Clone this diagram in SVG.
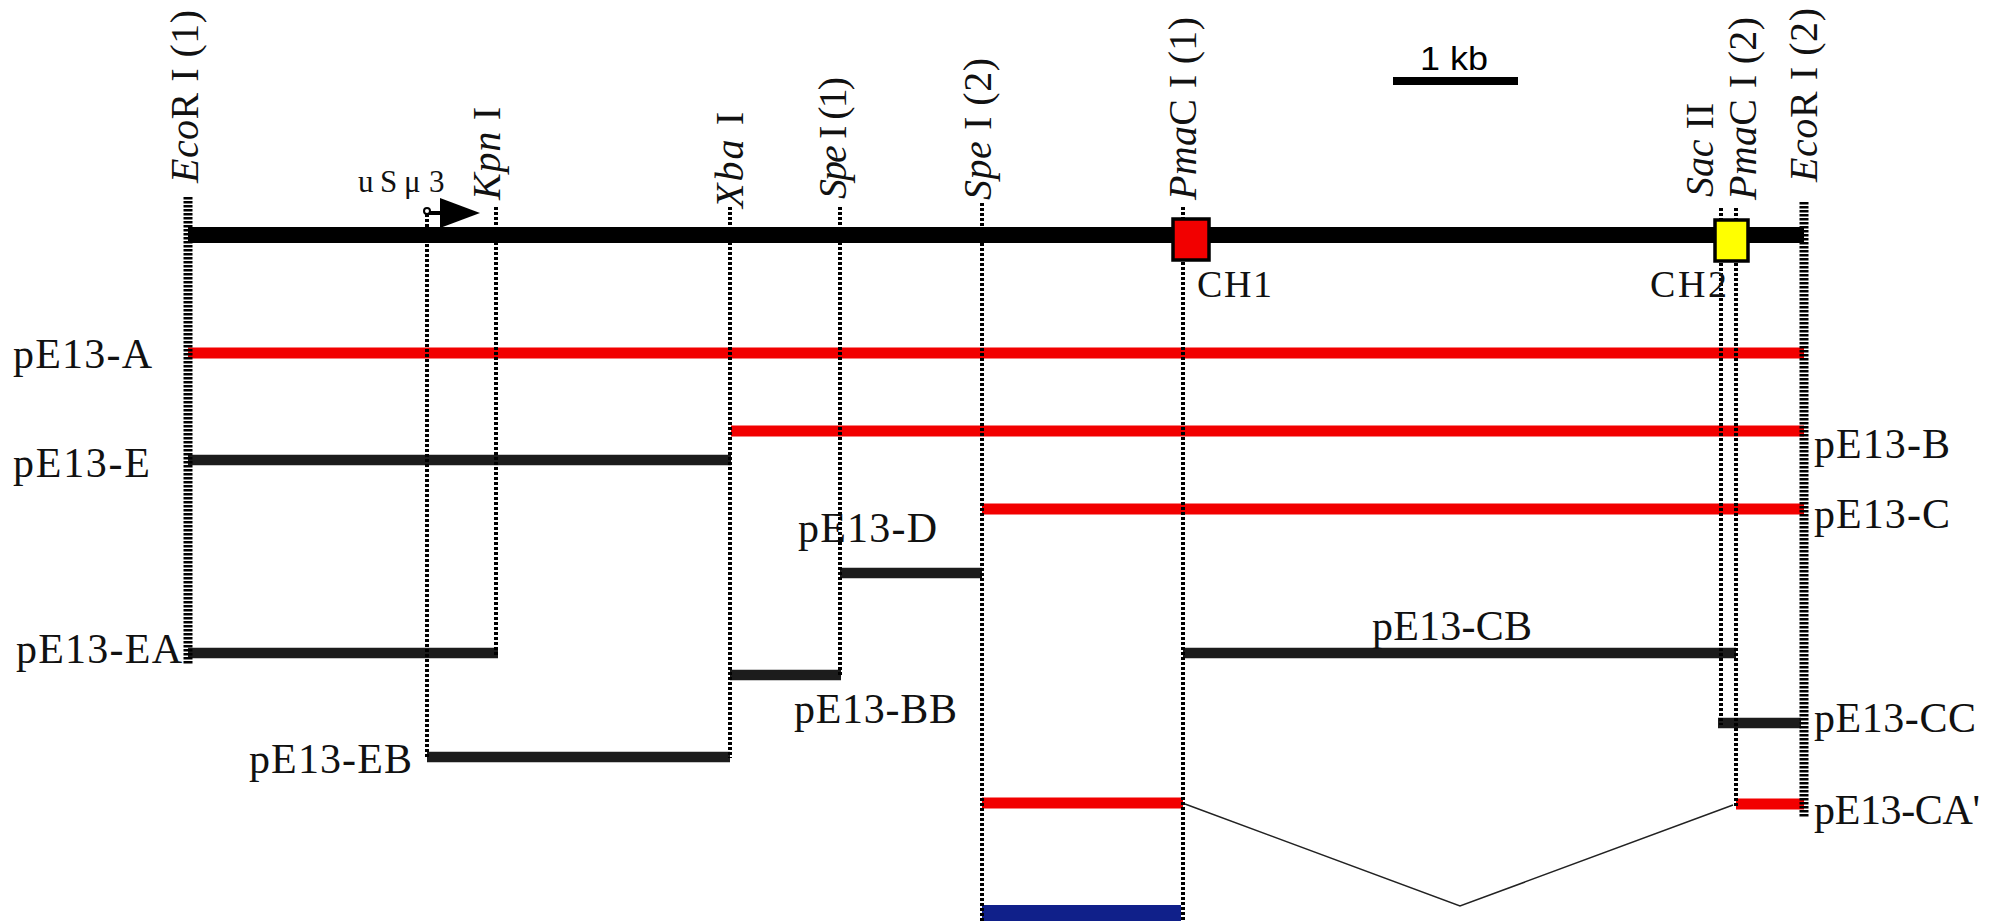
<svg xmlns="http://www.w3.org/2000/svg" width="2010" height="924" viewBox="0 0 2010 924">
<style>
.lbl{font-family:"Liberation Serif","Times New Roman",serif;font-size:42px;fill:#111;}
.vl{font-family:"Liberation Serif","Times New Roman",serif;font-size:40px;fill:#111;}
.it{font-style:italic;}
.site{stroke:#000;stroke-width:4;stroke-dasharray:3 2;fill:none;}
.eco{stroke:#000;stroke-width:9;stroke-dasharray:2.5 1.5;fill:none;}
.red{stroke:#f20000;stroke-width:11;}
.dark{stroke:#1c1c1c;stroke-width:10.5;}
.blue{stroke:#10208a;stroke-width:16;}
</style>
<rect width="2010" height="924" fill="#fff"/>

<!-- main genomic bar -->
<g id="main-bar">
  <line x1="188" y1="235" x2="1804" y2="235" stroke="#000" stroke-width="16"/>
</g>

<!-- fragments -->
<g id="pE13-A"><line class="red" x1="188" y1="353" x2="1804" y2="353"/><text class="lbl" x="13" y="368" textLength="139">pE13-A</text></g>
<g id="pE13-B"><line class="red" x1="731" y1="431" x2="1804" y2="431"/><text class="lbl" x="1814" y="458" textLength="136">pE13-B</text></g>
<g id="pE13-E"><line class="dark" x1="188" y1="460" x2="731" y2="460"/><text class="lbl" x="13" y="477" textLength="137">pE13-E</text></g>
<g id="pE13-C"><line class="red" x1="982" y1="509" x2="1804" y2="509"/><text class="lbl" x="1814" y="528" textLength="136">pE13-C</text></g>
<g id="pE13-D"><line class="dark" x1="840" y1="573" x2="982" y2="573"/><text class="lbl" x="798" y="542" textLength="139">pE13-D</text></g>
<g id="pE13-EA"><line class="dark" x1="188" y1="653" x2="498" y2="653"/><text class="lbl" x="16" y="663" textLength="166">pE13-EA</text></g>
<g id="pE13-CB"><line class="dark" x1="1183" y1="653" x2="1736" y2="653"/><text class="lbl" x="1372" y="640" textLength="160">pE13-CB</text></g>
<g id="pE13-BB"><line class="dark" x1="730" y1="675" x2="841" y2="675"/><text class="lbl" x="794" y="723" textLength="163">pE13-BB</text></g>
<g id="pE13-CC"><line class="dark" x1="1718" y1="723" x2="1801" y2="723"/><text class="lbl" x="1814" y="732" textLength="162">pE13-CC</text></g>
<g id="pE13-EB"><line class="dark" x1="427" y1="757" x2="730" y2="757"/><text class="lbl" x="249" y="773" textLength="163">pE13-EB</text></g>
<g id="pE13-CA"><line class="red" x1="982" y1="803" x2="1183" y2="803"/><line class="red" x1="1736" y1="804" x2="1804" y2="804"/><text class="lbl" x="1814" y="824" textLength="166">pE13-CA'</text></g>
<g id="blue-fragment"><line class="blue" x1="982" y1="913" x2="1181" y2="913"/></g>

<!-- connectors -->
<g id="connectors">
  <polyline points="1185,804 1460,906 1733,805" fill="none" stroke="#222" stroke-width="1.5"/>
</g>

<!-- restriction sites -->
<g id="site-EcoRI-1"><line class="eco" x1="188" y1="197" x2="188" y2="665"/>
  <text class="vl" transform="translate(198,183) rotate(-90)" textLength="173"><tspan class="it">Eco</tspan>R I (1)</text></g>
<g id="site-uSmu3"><line class="site" x1="427" y1="214" x2="427" y2="757"/>
  <text class="lbl" x="358 380 404 429" y="192" style="font-size:31px">uSμ3</text>
  <line x1="427" y1="213" x2="442" y2="213" stroke="#000" stroke-width="4"/>
  <polygon points="440,198 480,213 440,228" fill="#000"/>
  <circle cx="427" cy="211" r="3" fill="#fff" stroke="#000" stroke-width="2"/></g>
<g id="site-KpnI"><line class="site" x1="496" y1="207" x2="496" y2="655"/>
  <text class="vl" transform="translate(500,200) rotate(-90)" textLength="93"><tspan class="it">Kpn</tspan> I</text></g>
<g id="site-XbaI"><line class="site" x1="730" y1="207" x2="730" y2="758"/>
  <text class="vl" transform="translate(743,208) rotate(-90)" textLength="96"><tspan class="it">Xba</tspan> I</text></g>
<g id="site-SpeI-1"><line class="site" x1="840" y1="207" x2="840" y2="677"/>
  <text class="vl" transform="translate(846,199) rotate(-90)" textLength="122"><tspan class="it">Spe</tspan> I (1)</text></g>
<g id="site-SpeI-2"><line class="site" x1="982" y1="203" x2="982" y2="921"/>
  <text class="vl" transform="translate(991,200) rotate(-90)" textLength="142"><tspan class="it">Spe</tspan> I (2)</text></g>
<g id="site-PmaCI-1"><line class="site" x1="1183" y1="207" x2="1183" y2="921"/>
  <text class="vl" transform="translate(1196,200) rotate(-90)" textLength="183"><tspan class="it">Pma</tspan>C I (1)</text></g>
<g id="site-SacII"><line class="site" x1="1721" y1="208" x2="1721" y2="725"/>
  <text class="vl" transform="translate(1713,197) rotate(-90)" textLength="94"><tspan class="it">Sac</tspan> II</text></g>
<g id="site-PmaCI-2"><line class="site" x1="1736" y1="208" x2="1736" y2="806"/>
  <text class="vl" transform="translate(1756,200) rotate(-90)" textLength="183"><tspan class="it">Pma</tspan>C I (2)</text></g>
<g id="site-EcoRI-2"><line class="eco" x1="1804" y1="202" x2="1804" y2="818"/>
  <text class="vl" transform="translate(1817,182) rotate(-90)" textLength="174"><tspan class="it">Eco</tspan>R I (2)</text></g>

<!-- exons -->
<g id="CH1"><rect x="1173" y="219" width="36" height="41" fill="#f20000" stroke="#000" stroke-width="3.5"/>
  <text class="lbl" x="1197" y="297" style="font-size:38px" textLength="75">CH1</text></g>
<g id="CH2"><rect x="1715" y="220" width="33" height="41" fill="#ffff00" stroke="#000" stroke-width="3.5"/>
  <text class="lbl" x="1650" y="297" style="font-size:38px" textLength="77">CH2</text></g>

<!-- scale bar -->
<g id="scale-bar"><line x1="1393" y1="81" x2="1518" y2="81" stroke="#000" stroke-width="8"/>
  <text x="1420" y="70" style="font-family:'Liberation Sans',Arial,sans-serif;font-size:33px" textLength="68" lengthAdjust="spacingAndGlyphs" fill="#000">1 kb</text></g>
</svg>
